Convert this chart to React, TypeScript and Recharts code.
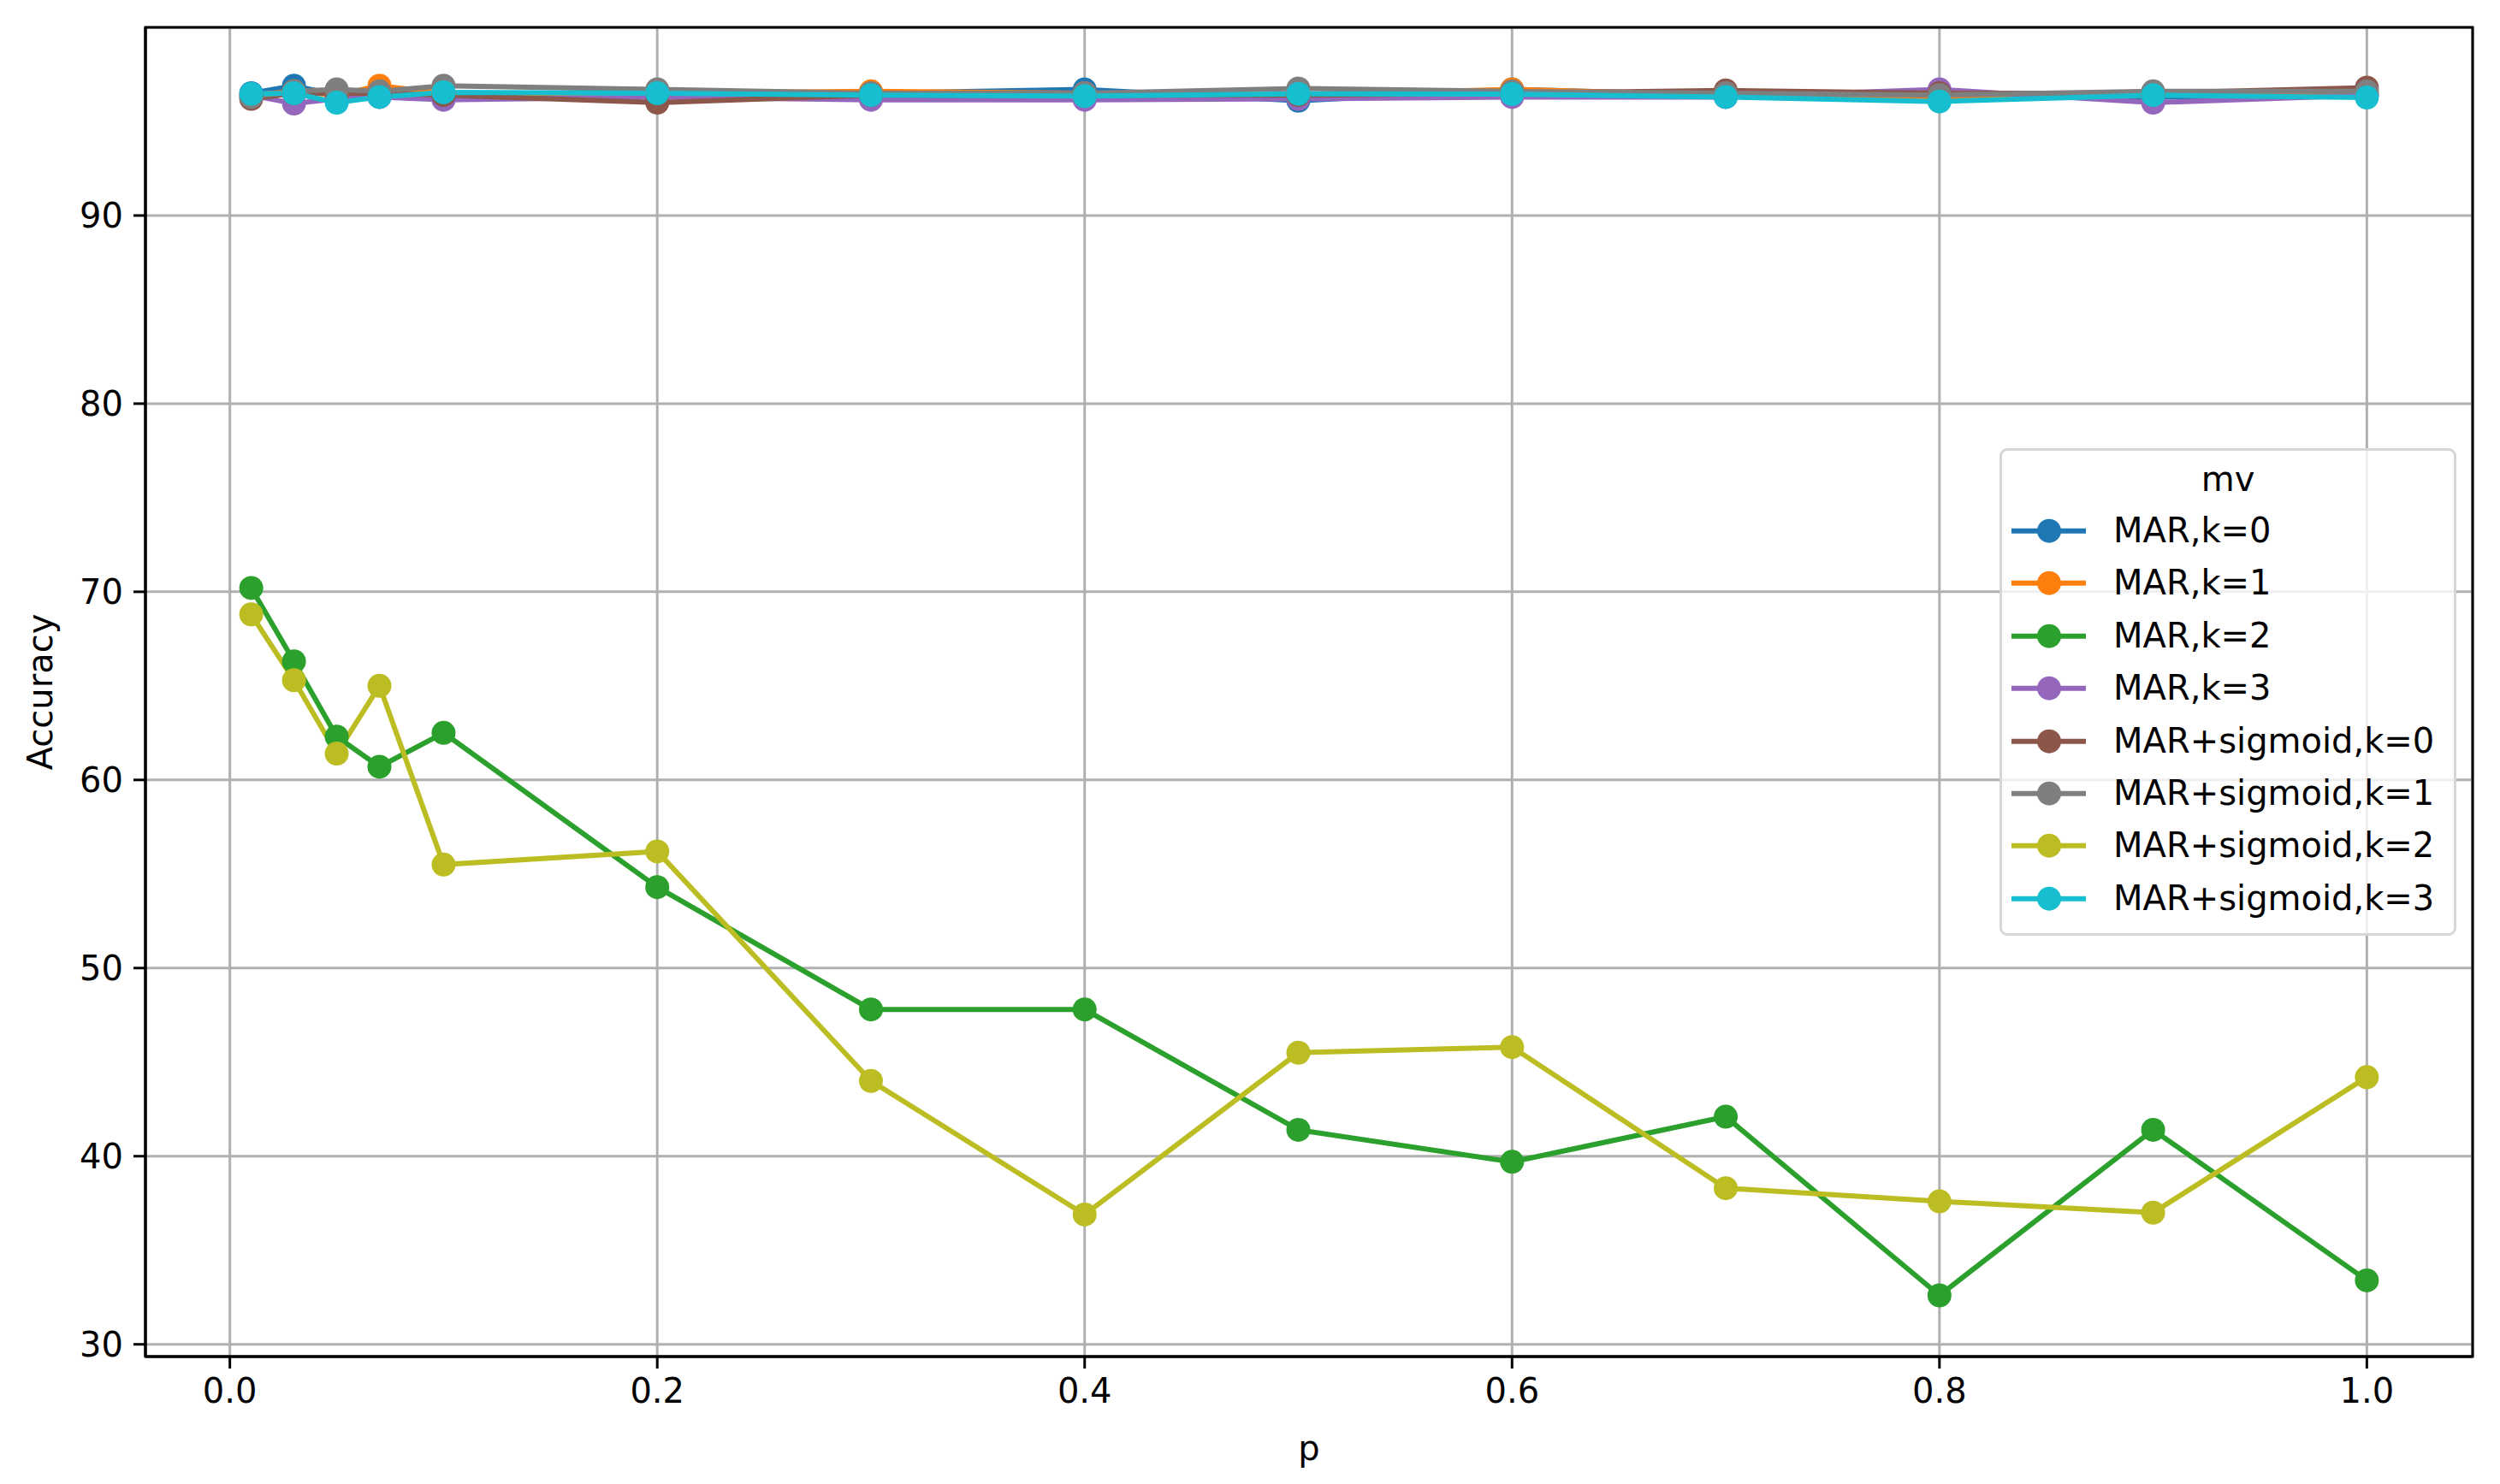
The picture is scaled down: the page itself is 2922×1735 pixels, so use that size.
import { LineChart, Line, XAxis, YAxis, CartesianGrid, Legend, ReferenceArea } from "recharts";

// p values on the x axis
const P = [0.01, 0.03, 0.05, 0.07, 0.1, 0.2, 0.3, 0.4, 0.5, 0.6, 0.7, 0.8, 0.9, 1.0];

// accuracy per setting
const MAR_K0 = [96.5, 96.9, 96.4, 96.4, 96.2, 96.4, 96.5, 96.7, 96.1, 96.7, 96.4, 96.4, 96.3, 96.4];
const MAR_K1 = [96.4, 96.6, 96.4, 96.9, 96.5, 96.5, 96.6, 96.5, 96.4, 96.7, 96.4, 96.3, 96.4, 96.5];
const MAR_K2 = [70.2, 66.3, 62.3, 60.7, 62.5, 54.3, 47.8, 47.8, 41.4, 39.7, 42.1, 32.6, 41.4, 33.4];
const MAR_K3 = [96.4, 95.95, 96.2, 96.3, 96.15, 96.3, 96.15, 96.15, 96.2, 96.3, 96.3, 96.7, 96.0, 96.4];
const SIG_K0 = [96.2, 96.5, 96.5, 96.5, 96.4, 96.0, 96.4, 96.4, 96.4, 96.5, 96.65, 96.5, 96.5, 96.8];
const SIG_K1 = [96.3, 96.6, 96.7, 96.6, 96.9, 96.7, 96.5, 96.5, 96.75, 96.6, 96.5, 96.4, 96.6, 96.6];
const SIG_K2 = [68.8, 65.3, 61.4, 65.0, 55.5, 56.2, 44.0, 36.9, 45.5, 45.8, 38.3, 37.6, 37.0, 44.2];
const SIG_K3 = [96.47, 96.5, 96.0, 96.3, 96.55, 96.5, 96.4, 96.35, 96.47, 96.45, 96.3, 96.06, 96.4, 96.27];

const SERIES = [
  { key: "s0", name: "MAR,k=0", values: MAR_K0, color: "#1f77b4" },
  { key: "s1", name: "MAR,k=1", values: MAR_K1, color: "#ff7f0e" },
  { key: "s2", name: "MAR,k=2", values: MAR_K2, color: "#2ca02c" },
  { key: "s3", name: "MAR,k=3", values: MAR_K3, color: "#9467bd" },
  { key: "s4", name: "MAR+sigmoid,k=0", values: SIG_K0, color: "#8c564b" },
  { key: "s5", name: "MAR+sigmoid,k=1", values: SIG_K1, color: "#7f7f7f" },
  { key: "s6", name: "MAR+sigmoid,k=2", values: SIG_K2, color: "#bcbd22" },
  { key: "s7", name: "MAR+sigmoid,k=3", values: SIG_K3, color: "#17becf" },
];

const X_TICKS = [0, 0.2, 0.4, 0.6, 0.8, 1.0];
const Y_TICKS = [30, 40, 50, 60, 70, 80, 90];
const X_DOMAIN: [number, number] = [-0.0395, 1.0495];
const Y_DOMAIN: [number, number] = [29.35, 100.0];

const data = P.map((p, i) => {
  const row: Record<string, number> = { p };
  SERIES.forEach((s) => (row[s.key] = s.values[i]));
  return row;
});

const FONT = "DejaVu Sans";
const DOT_R = 14;
const tickStyle = { fontSize: 40, fill: "#000", fontFamily: FONT };

// keep the legend in plotting order (recharts sorts it by name otherwise)
function LegendBox() {
  return (
    <div
      style={{
        position: "relative",
        width: 534,
        height: 570,
        boxSizing: "border-box",
        border: "3px solid #d6d6d6",
        borderRadius: 9,
        background: "rgba(255,255,255,0.8)",
        fontFamily: FONT,
        fontSize: 40,
        color: "#000",
      }}
    >
      <div style={{ position: "absolute", left: 0, right: 0, top: 8, lineHeight: "50px", textAlign: "center" }}>mv</div>
      {SERIES.map((s, i) => (
        <div key={s.key} style={{ position: "absolute", left: 0, top: 63 + i * 61.4, height: 61.4, width: "100%" }}>
          <svg width={100} height={61} style={{ position: "absolute", left: 11, top: 0 }}>
            <line x1={0} x2={87} y1={30.7} y2={30.7} stroke={s.color} strokeWidth={6} />
            <circle cx={44} cy={30.7} r={DOT_R} fill={s.color} />
          </svg>
          <span style={{ position: "absolute", left: 130, top: 0, lineHeight: "61px", whiteSpace: "nowrap" }}>{s.name}</span>
        </div>
      ))}
    </div>
  );
}

export default function App() {
  return (
    <div style={{ width: 2922, height: 1735, background: "#fff" }}>
      <style>{"body{margin:0}"}</style>
      <LineChart width={2922} height={1735} data={data} margin={{ top: 32, right: 32, bottom: 0, left: 0 }} style={{ fontFamily: FONT }}>
        <CartesianGrid stroke="#b0b0b0" strokeWidth={3} />
        <XAxis
          dataKey="p"
          type="number"
          domain={X_DOMAIN}
          ticks={X_TICKS}
          allowDataOverflow
          tickFormatter={(v: number) => v.toFixed(1)}
          height={149}
          tickSize={14}
          tickMargin={12}
          tick={tickStyle}
          axisLine={{ stroke: "#000", strokeWidth: 3 }}
          tickLine={{ stroke: "#000", strokeWidth: 3 }}
          label={{
            content: ({ viewBox }: any) => (
              <text x={viewBox.x + viewBox.width / 2} y={viewBox.y + 107} textAnchor="middle" dominantBaseline="central" fontSize={40} fontFamily={FONT} fill="#000">
                p
              </text>
            ),
          }}
        />
        <YAxis
          type="number"
          domain={Y_DOMAIN}
          ticks={Y_TICKS}
          allowDataOverflow
          width={170}
          tickSize={14}
          tickMargin={12}
          tick={tickStyle}
          axisLine={{ stroke: "#000", strokeWidth: 3 }}
          tickLine={{ stroke: "#000", strokeWidth: 3 }}
          label={{
            content: ({ viewBox }: any) => {
              const cx = viewBox.x + 47;
              const cy = viewBox.y + viewBox.height / 2;
              return (
                <text x={cx} y={cy} transform={`rotate(-90 ${cx} ${cy})`} textAnchor="middle" dominantBaseline="central" fontSize={40} fontFamily={FONT} fill="#000">
                  Accuracy
                </text>
              );
            },
          }}
        />
        {SERIES.map((s) => (
          <Line
            key={s.key}
            dataKey={s.key}
            name={s.name}
            stroke={s.color}
            strokeWidth={6}
            dot={{ r: DOT_R, fill: s.color, stroke: s.color, strokeWidth: 0 }}
            activeDot={false}
            isAnimationActive={false}
          />
        ))}
        <ReferenceArea x1={X_DOMAIN[0]} x2={X_DOMAIN[1]} y1={Y_DOMAIN[0]} y2={Y_DOMAIN[1]} fill="none" stroke="#000" strokeWidth={3} ifOverflow="visible" />
        <Legend
          layout="vertical"
          align="center"
          verticalAlign="middle"
          content={<LegendBox />}
          wrapperStyle={{ position: "absolute", left: 2337, top: 524, width: 534, height: 570 }}
        />
      </LineChart>
    </div>
  );
}
